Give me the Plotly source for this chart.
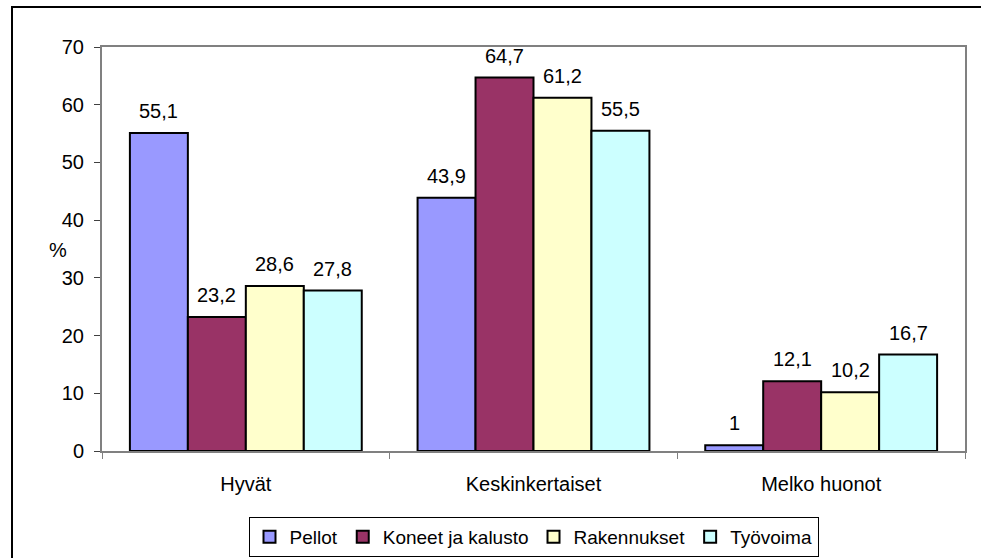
import plotly.graph_objects as go

categories = ["Hyvät", "Keskinkertaiset", "Melko huonot"]
series_names = ["Pellot", "Koneet ja kalusto", "Rakennukset", "Työvoima"]
pellot = [55.1, 43.9, 1.0]
koneet = [23.2, 64.7, 12.1]
rakennukset = [28.6, 61.2, 10.2]
tyovoima = [27.8, 55.5, 16.7]
colors = ["#9999FF", "#993366", "#FFFFCC", "#CCFFFF"]
y_ticks = [0, 10, 20, 30, 40, 50, 60, 70]

FONT = "Liberation Sans, Arial, sans-serif"
FS = 20
BARGAP = 0.194

def fmt(v):
    return f"{v:g}".replace(".", ",")

all_series = [pellot, koneet, rakennukset, tyovoima]
n = len(all_series)

fig = go.Figure()
annotations = []
bw = (1 - BARGAP) / n
for j, (name, vals, col) in enumerate(zip(series_names, all_series, colors)):
    fig.add_trace(go.Bar(
        x=categories, y=vals, name=name,
        marker=dict(color=col, line=dict(color="black", width=2)),
        cliponaxis=False,
    ))
    off = -(1 - BARGAP) / 2 + bw * (j + 0.5)
    for i, v in enumerate(vals):
        annotations.append(dict(x=i + off, y=v, xref="x", yref="y", text=fmt(v),
                                showarrow=False, yanchor="bottom", yshift=9,
                                font=dict(family=FONT, size=FS, color="black")))

W, H = 981, 558
L, R, T, B = 102, 16, 47, 107
pw, ph = W - L - R, H - T - B

def px(x):
    return (x - L) / pw

def py(y):
    return (H - B - y) / ph

annotations.append(dict(text="%", xref="paper", yref="paper", x=px(47), y=py(250),
                        showarrow=False, font=dict(family=FONT, size=FS, color="black")))

fig.update_layout(
    width=W, height=H,
    margin=dict(l=L, r=R, t=T, b=B, autoexpand=False),
    paper_bgcolor="white", plot_bgcolor="white",
    font=dict(family=FONT, size=FS, color="black"),
    barmode="group", bargap=BARGAP, bargroupgap=0,
    showlegend=True,
    legend=dict(orientation="h", x=0.5, xanchor="center",
                yref="container", y=1 - 537 / H, yanchor="middle",
                bordercolor="black", borderwidth=1, bgcolor="white",
                font=dict(family=FONT, size=19, color="black"),
                itemwidth=30, tracegroupgap=0),
    xaxis=dict(showline=True, linecolor="#808080", linewidth=2, mirror=True,
               ticks="outside", tickson="boundaries", ticklen=6, tickcolor="#808080",
               showgrid=False, tickfont=dict(size=FS), ticklabelstandoff=14),
    yaxis=dict(range=[0, 70], tickvals=y_ticks, showline=True, linecolor="#808080",
               linewidth=2, mirror=True, ticks="outside", ticklen=6, tickcolor="#404040",
               showgrid=False, zeroline=False, tickfont=dict(size=FS), ticklabelstandoff=6),
    annotations=annotations,
    shapes=[dict(type="rect", xref="paper", yref="paper",
                 x0=px(12), x1=px(1000), y0=py(580), y1=py(7),
                 line=dict(color="black", width=2), fillcolor="rgba(0,0,0,0)", layer="below")],
)

fig.write_html("out.html", config={"displayModeBar": False},
               post_script="document.body.style.margin='0';")
